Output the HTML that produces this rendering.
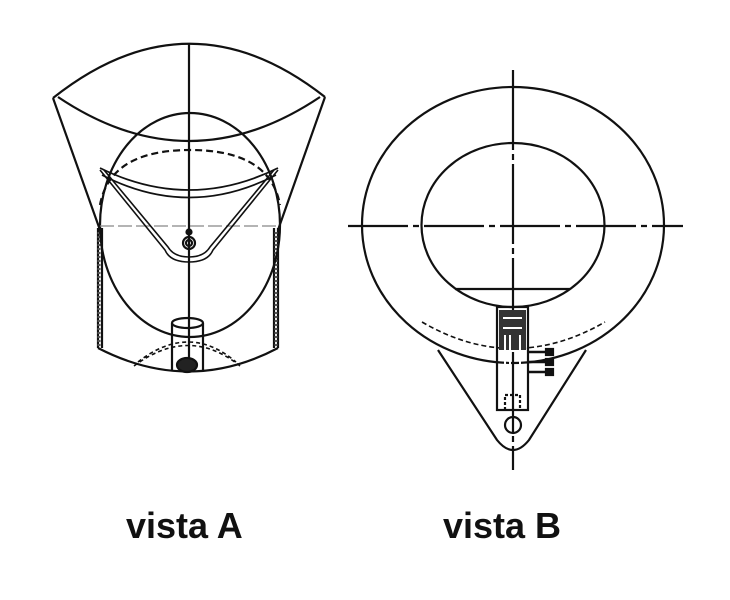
<!DOCTYPE html>
<html><head><style>
html,body{margin:0;padding:0;background:#fff;width:730px;height:600px;overflow:hidden}
svg{position:absolute;left:0;top:0}
.t{font-family:"Liberation Sans",sans-serif;font-weight:bold;font-size:36px;fill:#111}
</style></head><body>
<svg width="730" height="600" viewBox="0 0 730 600" fill="none" stroke="#111" stroke-width="2.2">
<!-- VISTA A -->
<path d="M53,98 Q189,-10 325,97"/>
<path d="M58,97 Q189,185 320,97"/>
<path d="M53,98 L100,230 M325,97 L278,230"/>
<path d="M98,228 L98,348 M102,228 L102,348 M278,228 L278,348 M274,228 L274,348"/>
<path d="M99,232 L99,346 M276,232 L276,346" stroke-dasharray="2 2" stroke-width="3" stroke="#555"/>
<path d="M98,348 Q189,395 278,348"/>
<ellipse cx="190" cy="225" rx="90" ry="112"/>
<path d="M100,205 Q110,150 190,150 Q270,150 280,205" stroke-dasharray="7 4"/>
<path d="M100,226 L280,226" stroke="#888" stroke-width="1.2" stroke-dasharray="14 4"/>
<path d="M189,44 L189,370"/>
<path d="M100,168 Q189,212 278,168 M102,175 Q189,220 276,175" stroke-width="1.8"/>
<path d="M100,170 L165,250 Q170,262 189,262 Q208,262 213,250 L278,170 M104,170 L168,247 Q174,257 189,257 Q204,257 210,247 L274,170" stroke-width="1.6"/>
<circle cx="189" cy="243" r="6"/><circle cx="189" cy="243" r="3"/>
<circle cx="189" cy="232" r="2.5" fill="#111"/>
<path d="M172,323 L172,370 M203,323 L203,370"/>
<ellipse cx="187.5" cy="323" rx="15.5" ry="5"/>
<path d="M138,362 Q189,322 236,362 M134,366 Q189,325 240,366" stroke-dasharray="4 3" stroke-width="1.6"/>
<ellipse cx="187" cy="365" rx="10" ry="7" fill="#222"/>
<!-- VISTA B -->
<ellipse cx="513" cy="225" rx="151" ry="138"/>
<ellipse cx="513" cy="225" rx="91.5" ry="82"/>
<path d="M348,226 L683,226" stroke-dasharray="60 5 6 5"/>
<path d="M513,70 L513,470" stroke-dasharray="80 4 6 4"/>
<path d="M455,289 L570,289"/>
<path d="M438,350 L497,440 Q513,460 529,440 L586,350"/>
<circle cx="513" cy="425" r="8"/>
<path d="M422,322 Q513,375 605,322" stroke-dasharray="5 3" stroke-width="1.6"/>
<rect x="497" y="307" width="31" height="103"/>
<rect x="499" y="310" width="27" height="40" fill="#333" stroke="none"/>
<path d="M503,318 L522,318 M503,328 L522,328 M505,335 L505,370 M520,335 L520,370 M510,335 L510,400" stroke="#fff" stroke-width="2"/>
<path d="M528,352 L552,352 M528,362 L552,362 M528,372 L552,372" stroke-width="2.5"/>
<rect x="546" y="349" width="7" height="6" fill="#111"/>
<rect x="546" y="359" width="7" height="6" fill="#111"/>
<rect x="546" y="369" width="7" height="6" fill="#111"/>
<path d="M505,410 L505,395 L520,395 L520,410" stroke-dasharray="3 2"/>
<text class="t" x="126" y="538" stroke="none">vista A</text>
<text class="t" x="443" y="538" stroke="none">vista B</text>
</svg>
</body></html>
